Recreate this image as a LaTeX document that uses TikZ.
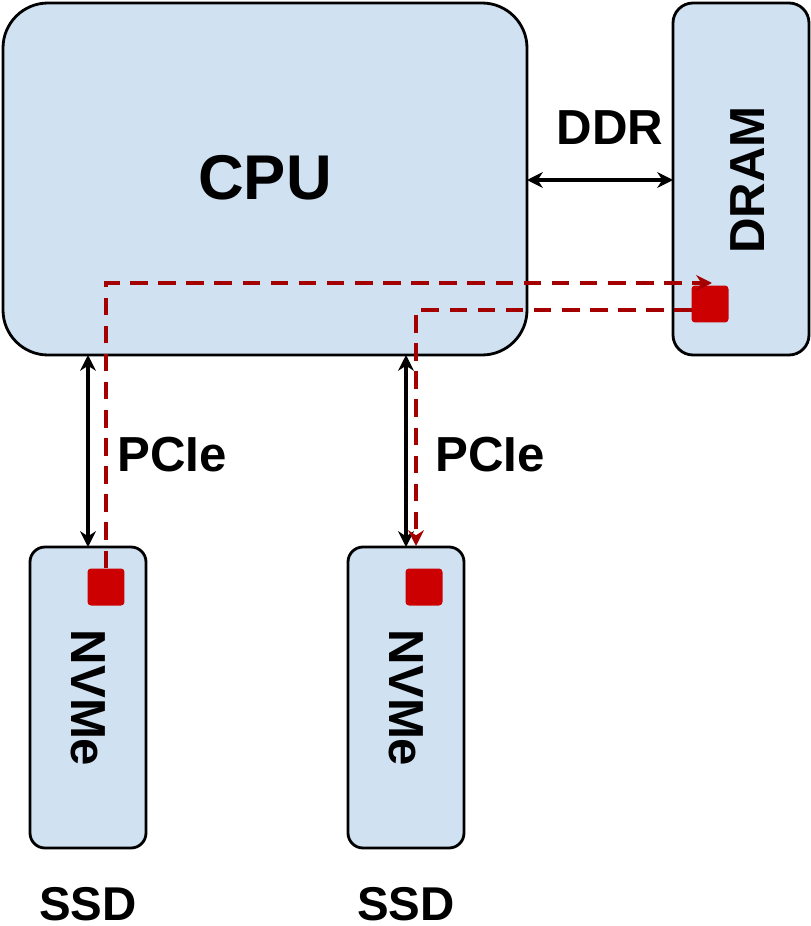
\documentclass[tikz,border=0pt]{standalone}
\usepackage{fontspec}
\setmainfont{Liberation Sans}
\usepackage{tikz}
\usetikzlibrary{positioning, arrows.meta}
\definecolor{boxblue}{HTML}{D0E1F2}
\definecolor{darkred}{HTML}{A50000}
\definecolor{chipred}{HTML}{CC0000}
\tikzset{
  box/.style={draw=black, line width=1.6pt, fill=boxblue, inner sep=0pt},
  chip/.style={fill=chipred, rounded corners=2pt, minimum size=0.74cm, inner sep=0pt},
  bus/.style={line width=2.2pt, {Stealth[length=9pt,width=9pt]}-{Stealth[length=9pt,width=9pt]}},
  flow/.style={darkred, line width=2.1pt, dash pattern=on 10pt off 6pt, -{Stealth[length=9pt,width=9pt]}},
  lbl/.style={font=\bfseries\fontsize{28}{28}\selectfont}
}
\begin{document}
\begin{tikzpicture}[x=0.02cm, y=-0.02cm]
    \useasboundingbox (0,0) rectangle (811,926);

    \draw[box, rounded corners=0.9cm] (3,3) rectangle (527,355);
    \node[font=\bfseries\fontsize{36}{36}\selectfont] (cpu) at (265,178) {CPU};

    \draw[box, rounded corners=0.4cm] (673,3) rectangle (809,355);
    \node[lbl, rotate=90] (dram) at (748,180) {DRAM};

    \foreach \x/\n in {88/a, 406/b} {
        \draw[box, rounded corners=0.3cm] (\x-58,547) rectangle (\x+58,848);
        \node[lbl, rotate=-90] (nvme\n) at (\x,698) {NVMe};
        \node[font=\bfseries\fontsize{27}{27}\selectfont, inner sep=0pt] (ssd\n) at (\x,904) {SSD};
        \coordinate (top\n) at (\x,355);
        \coordinate (bot\n) at (\x,547);
        \draw[bus] (top\n) -- (bot\n);
        \node[lbl] (pcie\n) at (\x+84,455) {PCIe};
    }

    \coordinate (cpuR) at (527,180);
    \coordinate (dramL) at (673,180);
    \draw[bus] (cpuR) -- (dramL);
    \node[lbl] (ddr) at (610,128) {DDR};

    \node[chip] (chipa) at (106,587) {};
    \node[chip] (chipb) at (424,587) {};
    \node[chip] (chipd) at (710,304) {};

    % dma paths
    \coordinate (turna) at (106,283);
    \coordinate (enda) at (712,283);
    \draw[flow] (chipa.north) -- (turna) -- (enda);
    \coordinate (starta) at (692,310);
    \coordinate (turnb) at (416,310);
    \coordinate (endb) at (416,546);
    \draw[flow] (starta) -- (turnb) -- (endb);
\end{tikzpicture}
\end{document}
